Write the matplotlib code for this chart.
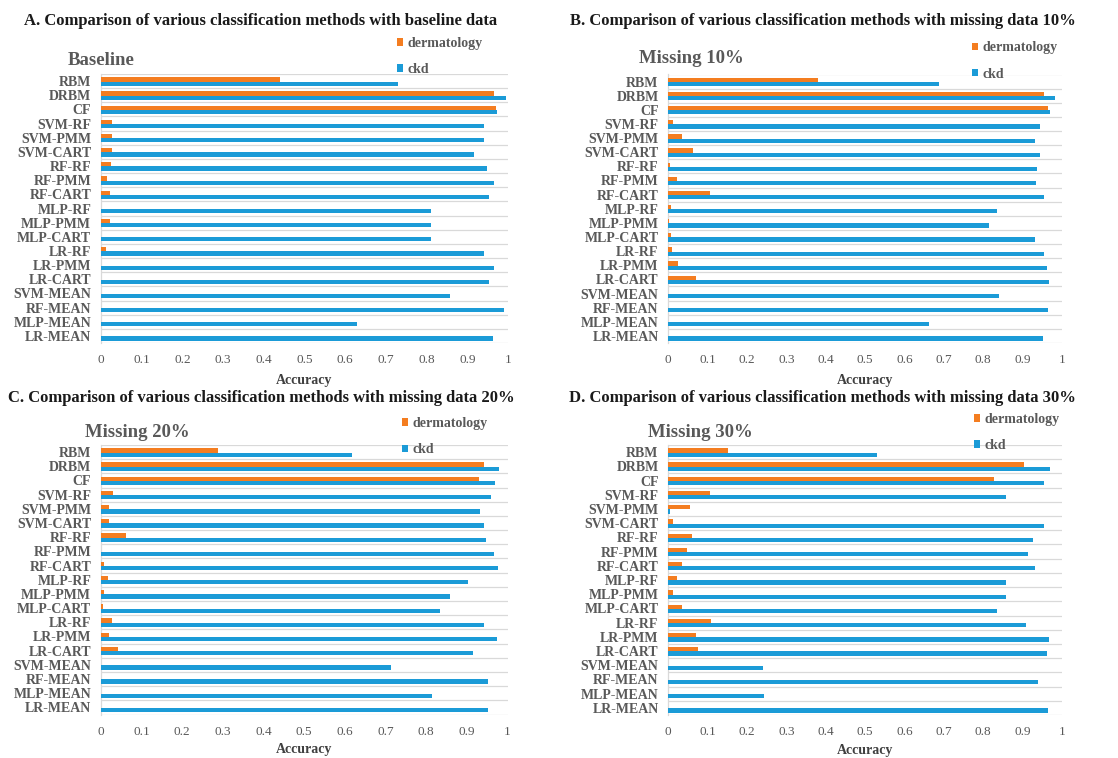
import matplotlib
matplotlib.use("Agg")
import matplotlib.pyplot as plt
from matplotlib.patches import Patch
import numpy as np

# Methods, listed from the top of each chart to the bottom
methods = ["RBM", "DRBM", "CF", "SVM-RF", "SVM-PMM", "SVM-CART", "RF-RF",
           "RF-PMM", "RF-CART", "MLP-RF", "MLP-PMM", "MLP-CART", "LR-RF",
           "LR-PMM", "LR-CART", "SVM-MEAN", "RF-MEAN", "MLP-MEAN", "LR-MEAN"]

x_ticks = [0, 0.1, 0.2, 0.3, 0.4, 0.5, 0.6, 0.7, 0.8, 0.9, 1]
x_tick_labels = ["0", "0.1", "0.2", "0.3", "0.4", "0.5", "0.6", "0.7", "0.8", "0.9", "1"]

series_names = ["dermatology", "ckd"]

# Accuracy per method, baseline data
derm_baseline = [0.44, 0.965, 0.97, 0.026, 0.026, 0.026, 0.024, 0.015, 0.022, 0.0,
                 0.022, 0.0, 0.012, 0.0, 0.0, 0.0, 0.0, 0.0, 0.0]
ckd_baseline = [0.73, 0.996, 0.973, 0.942, 0.942, 0.916, 0.948, 0.966, 0.953, 0.812,
                0.812, 0.812, 0.942, 0.966, 0.953, 0.858, 0.989, 0.628, 0.964]

# Accuracy per method, 10% missing data
derm_miss10 = [0.381, 0.954, 0.964, 0.013, 0.036, 0.063, 0.005, 0.022, 0.106, 0.006,
               0.003, 0.007, 0.01, 0.024, 0.071, 0.0, 0.0, 0.0, 0.0]
ckd_miss10 = [0.687, 0.984, 0.971, 0.945, 0.932, 0.945, 0.936, 0.934, 0.954, 0.835,
              0.814, 0.932, 0.954, 0.963, 0.967, 0.841, 0.964, 0.662, 0.953]

# Accuracy per method, 20% missing data
derm_miss20 = [0.289, 0.942, 0.929, 0.030, 0.020, 0.019, 0.062, 0.0, 0.007, 0.017,
               0.007, 0.006, 0.027, 0.019, 0.041, 0.0, 0.0, 0.0, 0.0]
ckd_miss20 = [0.618, 0.979, 0.970, 0.959, 0.932, 0.942, 0.946, 0.968, 0.976, 0.903,
              0.858, 0.834, 0.942, 0.975, 0.916, 0.713, 0.952, 0.815, 0.952]

# Accuracy per method, 30% missing data
derm_miss30 = [0.152, 0.904, 0.828, 0.105, 0.054, 0.012, 0.061, 0.047, 0.034, 0.022,
               0.012, 0.034, 0.108, 0.071, 0.076, 0.0, 0.0, 0.0, 0.0]
ckd_miss30 = [0.530, 0.969, 0.954, 0.858, 0.004, 0.954, 0.928, 0.915, 0.932, 0.858,
              0.858, 0.835, 0.908, 0.968, 0.963, 0.241, 0.939, 0.244, 0.964]

titles = ["A. Comparison of various classification methods with baseline data",
          "B. Comparison of various classification methods with missing data 10%",
          "C. Comparison of various classification methods with missing data 20%",
          "D. Comparison of various classification methods with missing data 30%"]
subtitles = ["Baseline", "Missing 10%", "Missing 20%", "Missing 30%"]

ORANGE = "#F47D20"
BLUE = "#1B9BD7"
GRAY_TXT = "#595959"
GRID = "#D9D9D9"
SERIF = ["Liberation Serif", "DejaVu Serif"]

W, H = 1118, 758
fig = plt.figure(figsize=(W / 100, H / 100), dpi=100)


def px_axes(left, right, top, bottom):
    return fig.add_axes([left / W, 1 - bottom / H, (right - left) / W, (bottom - top) / H])


panels = [
    dict(box=(101, 508, 74, 343), derm=derm_baseline, ckd=ckd_baseline,
         title_xy=(260.5, 25), sub_xy=(-0.081, 1.033), leg_xy=(0.727, 1.065), lpad=6),
    dict(box=(668.3, 1061.7, 74.5, 343), derm=derm_miss10, ckd=ckd_miss10,
         title_xy=(822.5, 25), sub_xy=(-0.074, 1.043), leg_xy=(0.772, 1.050), lpad=6),
    dict(box=(101, 507.5, 445, 714.5), derm=derm_miss20, ckd=ckd_miss20,
         title_xy=(261.5, 402), sub_xy=(-0.039, 1.030), leg_xy=(0.740, 1.031), lpad=4),
    dict(box=(668.3, 1061.7, 445, 715), derm=derm_miss30, ckd=ckd_miss30,
         title_xy=(822.5, 402), sub_xy=(-0.052, 1.030), leg_xy=(0.777, 1.046), lpad=4),
]

n = len(methods)
ypos = np.arange(n)
bar_h = 0.30
shift = 0.03

for k, p in enumerate(panels):
    ax = px_axes(*p["box"])
    ax.barh(ypos + shift - bar_h / 2, p["derm"], height=bar_h, color=ORANGE,
            edgecolor="none", zorder=3)
    ax.barh(ypos + shift + bar_h / 2, p["ckd"], height=bar_h, color=BLUE,
            edgecolor="none", zorder=3)

    ax.set_xlim(0, 1.0)
    ax.set_ylim(n - 0.5, -0.5)

    ax.set_yticks(ypos)
    ax.set_yticklabels(methods, fontfamily=SERIF, fontweight="bold",
                       fontsize=10, color=GRAY_TXT)
    ax.set_yticks(np.arange(-0.5, n, 1.0), minor=True)
    ax.grid(which="minor", axis="y", color=GRID, linewidth=0.9, zorder=0)
    ax.grid(which="major", axis="both", visible=False)

    ax.set_xticks(x_ticks)
    ax.set_xticklabels(x_tick_labels, fontfamily=SERIF, fontsize=9.5, color=GRAY_TXT)
    ax.tick_params(axis="both", which="both", length=0)
    ax.tick_params(axis="y", which="major", pad=7)
    ax.tick_params(axis="x", which="major", pad=8)

    for side in ("top", "right", "bottom"):
        ax.spines[side].set_visible(False)
    ax.spines["left"].set_color(GRID)
    ax.spines["left"].set_linewidth(0.9)

    ax.set_xlabel("Accuracy", fontfamily=SERIF, fontweight="bold",
                  fontsize=10, color="#404040", labelpad=p["lpad"])

    # Panel heading above each chart
    tx, ty = p["title_xy"]
    fig.text(tx / W, 1 - ty / H, titles[k], ha="center", va="baseline",
             fontfamily=SERIF, fontweight="bold", fontsize=12, color="#1a1a1a")

    # Chart subtitle
    sx, sy = p["sub_xy"]
    ax.text(sx, sy, subtitles[k], transform=ax.transAxes, ha="left", va="baseline",
            fontfamily=SERIF, fontweight="bold", fontsize=13.5, color=GRAY_TXT)

    # Series legend
    handles = [Patch(facecolor=ORANGE, edgecolor="none"),
               Patch(facecolor=BLUE, edgecolor="none")]
    lx, ly = p["leg_xy"]
    leg = ax.legend(handles, series_names, loc="center left", bbox_to_anchor=(lx, ly),
                    frameon=False, borderpad=0, borderaxespad=0,
                    handlelength=0.45, handleheight=0.45, handletextpad=0.3,
                    labelspacing=0.95,
                    prop=dict(family=SERIF, weight="bold", size=10))
    for t in leg.get_texts():
        t.set_color(GRAY_TXT)

fig.savefig("out.png", dpi=100, facecolor="white")
